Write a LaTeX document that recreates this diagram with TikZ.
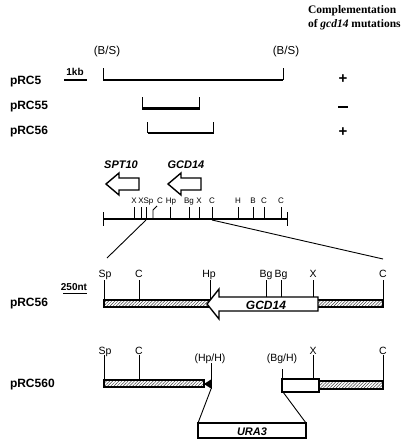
\documentclass[tikz,border=0pt]{standalone}
\usepackage{fontspec}
\setmainfont{Liberation Sans}
\newfontfamily\serifbold{Liberation Serif}
\usetikzlibrary{patterns.meta}
\tikzset{
  txt/.style={inner sep=0pt, outer sep=0pt, anchor=base},
  plab/.style={txt, anchor=base west, font=\fontsize{12}{12}\selectfont\bfseries},
  bslab/.style={txt, font=\fontsize{11.5}{12}\selectfont},
  scalelab/.style={txt, font=\fontsize{10}{11}\selectfont\bfseries},
  sitesm/.style={txt, font=\fontsize{8}{9}\selectfont},
  sitelg/.style={txt, font=\fontsize{10.5}{11}\selectfont},
  genelab/.style={txt, font=\fontsize{11}{12}\selectfont\bfseries\itshape},
  complab/.style={txt, anchor=base west, font=\serifbold\fontsize{11.5}{14}\selectfont\bfseries},
  signlab/.style={inner sep=0pt, font=\fontsize{15}{15}\selectfont\bfseries},
  mapline/.style={line width=2.3pt},
  tk/.style={line width=0.9pt},
  conn/.style={line width=0.9pt},
  hatchbar/.style={draw, line width=1.3pt, pattern={Lines[angle=45,distance=2.2pt,line width=0.5pt]}, pattern color=black!75},
  openbox/.style={draw, line width=1.3pt, fill=white},
  blockarrow/.style={draw, line width=1.4pt, fill=white, line join=miter},
}
\begin{document}
\begin{tikzpicture}[x=1pt,y=-1pt]
\useasboundingbox (0,0) rectangle (408,444);

% header
\node[complab] (hd1) at (308,14) {Complementation};
\node[complab] (hd2) at (308,28) {of \textit{gcd14} mutations};

% top constructs
\node[bslab] (bsl) at (107,55) {(B/S)};
\node[bslab] (bsr) at (286,55) {(B/S)};
\node[plab] (p5) at (10,84) {pRC5};
\node[plab] (p55) at (10,109) {pRC55};
\node[plab] (p56a) at (10,134) {pRC56};
\node[scalelab] (kb) at (75,75) {1kb};
\draw[line width=1.8pt] (64,80) -- (87,80);

\draw[mapline] (103,80) -- (283,80);
\draw[tk] (103,68) -- (103,80);
\draw[tk] (283,68) -- (283,80);
\draw[mapline] (142,108.5) -- (199.5,108.5);
\draw[tk] (142,97) -- (142,108.5);
\draw[tk] (199.5,97) -- (199.5,108.5);
\draw[mapline] (147.5,133) -- (213.5,133);
\draw[tk] (147.5,122) -- (147.5,133);
\draw[tk] (213.5,122) -- (213.5,133);

\node[signlab] (s1) at (343,79) {+};
\node[signlab] (s2) at (343,107) {\rule{9.5pt}{2.8pt}};
\node[signlab] (s3) at (343,132.5) {+};

% gene arrows
\node[genelab] (spt) at (121,168) {SPT10};
\node[genelab] (gcd) at (186,168) {GCD14};
\draw[blockarrow] (106,184) -- (119,173) -- (119,178) -- (139,178) -- (139,190) -- (119,190) -- (119,195) -- cycle;
\draw[blockarrow] (168,184) -- (181,173) -- (181,178) -- (201,178) -- (201,190) -- (181,190) -- (181,195) -- cycle;

% main map
\foreach \x in {134,141,146,170,189,199,212,238,253,264,281}
  \draw[tk] (\x,207) -- (\x,219);
\draw[tk] (153,219) -- (153,210) -- (157,206);
\draw[mapline] (103,219) -- (287,219);
\draw[tk] (103,212) -- (103,226);
\draw[tk] (287,212) -- (287,226);
\foreach \x/\t [count=\i] in {134/X,141/X,148.5/Sp,160/C,171/Hp,189/Bg,199/X,212/C,238/H,253/B,264/C,281/C}
  \node[sitesm] (m\i) at (\x,203) {\t};

\coordinate (zl0) at (146,220);
\coordinate (zl1) at (107,258);
\coordinate (zr0) at (212,220);
\coordinate (zr1) at (383,259);
\draw[conn] (zl0) -- (zl1);
\draw[conn] (zr0) -- (zr1);

% pRC56 detail
\node[plab] (p56b) at (10,306) {pRC56};
\node[scalelab] (nt) at (74,290) {250nt};
\draw[line width=1.8pt] (63,293.5) -- (87,293.5);
\foreach \x in {104,139,210,266,281,313,383}
  \draw[tk] (\x,280) -- (\x,302);
\draw[hatchbar] (104,300) rectangle (383,307);
\draw[blockarrow] (207,304) -- (219,289) -- (219,297) -- (318,297) -- (318,311) -- (219,311) -- (219,319) -- cycle;
\node[genelab, font=\fontsize{12}{12}\selectfont\bfseries\itshape] (g2) at (266,309) {GCD14};
\foreach \x/\t [count=\i] in {105/Sp,139/C,209/Hp,266/Bg,281/Bg,313/X,383/C}
  \node[sitelg] (d\i) at (\x,277) {\t};

% pRC560
\node[plab] (p560) at (10,387) {pRC560};
\draw[tk] (104,355) -- (104,380);
\draw[tk] (139,355) -- (139,380);
\draw[tk] (211,363) -- (211,389);
\draw[hatchbar] (104,380) rectangle (204,387);
\fill (204,384) -- (211,379.5) -- (211,388.5) -- cycle;
\draw[tk] (282,369) -- (282,379);
\draw[tk] (313,355) -- (313,379);
\draw[tk] (383,355) -- (383,381);
\draw[openbox] (282,379) rectangle (319,392);
\draw[hatchbar] (319,381) rectangle (383,389);
\foreach \x/\t [count=\i] in {105/Sp,139/C,313/X,383/C}
  \node[sitelg] (e\i) at (\x,354) {\t};
\node[sitelg] (hph) at (210,361) {(Hp/H)};
\node[sitelg] (bgh) at (282,361) {(Bg/H)};

\draw[openbox] (198,423) rectangle (306,438);
\node[genelab] (ura) at (252,435) {URA3};
\coordinate (ul0) at (211,389);
\coordinate (ul1) at (198,423);
\coordinate (ur0) at (283,392);
\coordinate (ur1) at (306,423);
\draw[conn] (ul0) -- (ul1);
\draw[conn] (ur0) -- (ur1);
\end{tikzpicture}
\end{document}
